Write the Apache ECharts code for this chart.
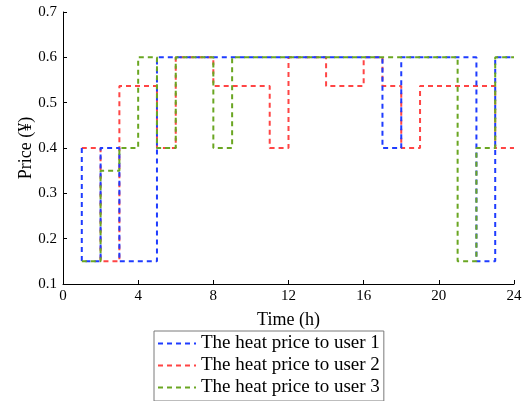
<!DOCTYPE html>
<html>
<head>
<meta charset="utf-8">
<script src="https://cdn.jsdelivr.net/npm/echarts@6/dist/echarts.min.js"></script>
<style>html,body{margin:0;padding:0;background:#fff;}#c{width:527px;height:401px;}</style>
</head>
<body>
<div id="c"></div>
<script>
var seriesNames = ['The heat price to user 1', 'The heat price to user 2', 'The heat price to user 3'];
var xTicks = [0, 4, 8, 12, 16, 20, 24];
var yTicks = [0.1, 0.2, 0.3, 0.4, 0.5, 0.6, 0.7];

var hours1 = [1, 1, 2, 3, 4, 5, 6, 7, 8, 9, 10, 11, 12, 13, 14, 15, 16, 17, 18, 19, 20, 21, 22, 23, 24];
var price1 = [0.4, 0.15, 0.4, 0.15, 0.15, 0.6, 0.6, 0.6, 0.6, 0.6, 0.6, 0.6, 0.6, 0.6, 0.6, 0.6, 0.6, 0.4, 0.6, 0.6, 0.6, 0.6, 0.15, 0.6, 0.6];

var hours2 = [1, 2, 3, 4, 5, 6, 7, 8, 9, 10, 11, 12, 13, 14, 15, 16, 17, 18, 19, 20, 21, 22, 23, 24];
var price2 = [0.4, 0.15, 0.537, 0.537, 0.4, 0.6, 0.6, 0.537, 0.537, 0.537, 0.4, 0.6, 0.6, 0.537, 0.537, 0.6, 0.537, 0.4, 0.537, 0.537, 0.537, 0.537, 0.4, 0.4];

var hours3 = [1, 2, 3, 4, 5, 6, 7, 8, 9, 10, 11, 12, 13, 14, 15, 16, 17, 18, 19, 20, 21, 22, 23, 24];
var price3 = [0.15, 0.35, 0.4, 0.6, 0.4, 0.6, 0.6, 0.4, 0.6, 0.6, 0.6, 0.6, 0.6, 0.6, 0.6, 0.6, 0.6, 0.6, 0.6, 0.6, 0.15, 0.4, 0.6, 0.6];

var colors = ['#1f3cff', '#ff4545', '#6aa622'];

function pairs(xs, ys) { return xs.map(function (x, i) { return [x, ys[i]]; }); }

var font = 'Liberation Serif';
var chart = echarts.init(document.getElementById('c'), null, { renderer: 'canvas' });

function mk(name, data, color, z) {
  return {
    name: name, type: 'line', step: 'end', data: data, symbol: 'none', z: z,
    itemStyle: { color: color },
    lineStyle: { color: color, width: 2, type: [5, 4] },
    animation: false
  };
}

chart.setOption({
  animation: false,
  grid: { left: 63, right: 13, top: 12, bottom: 117 },
  xAxis: {
    type: 'value', min: 0, max: 24, interval: 4,
    name: 'Time (h)', nameLocation: 'middle', nameGap: 27, nameMoveOverlap: false,
    nameTextStyle: { fontFamily: font, fontSize: 18, color: '#000' },
    axisLine: { lineStyle: { color: '#000', width: 1 } },
    axisTick: { inside: true, length: 4, lineStyle: { color: '#000' } },
    axisLabel: { fontFamily: font, fontSize: 15, color: '#000', margin: 5 },
    splitLine: { show: false }
  },
  yAxis: {
    type: 'value', min: 0.1, max: 0.7, interval: 0.1,
    name: 'Price (¥)', nameLocation: 'middle', nameGap: 28, nameRotate: 90, nameMoveOverlap: false,
    nameTextStyle: { fontFamily: font, fontSize: 18, color: '#000' },
    axisLine: { show: true, lineStyle: { color: '#000', width: 1 } },
    axisTick: { show: true, inside: true, length: 4, lineStyle: { color: '#000' } },
    axisLabel: { fontFamily: font, fontSize: 15, color: '#000', margin: 6,
      formatter: function (v) { return v.toFixed(1); } },
    splitLine: { show: false }
  },
  legend: {
    orient: 'vertical', left: 154, top: 331,
    itemWidth: 38, itemHeight: 10, itemGap: 3,
    itemStyle: { opacity: 0 },
    borderColor: '#7a7a7a', borderWidth: 1, padding: [3, 4, 4, 3],
    textStyle: { fontFamily: font, fontSize: 19, color: '#000' },
    data: seriesNames
  },
  series: [
    mk(seriesNames[0], pairs(hours1, price1), colors[0], 3),
    mk(seriesNames[1], pairs(hours2, price2), colors[1], 2),
    mk(seriesNames[2], pairs(hours3, price3), colors[2], 4)
  ]
});
</script>
</body>
</html>
